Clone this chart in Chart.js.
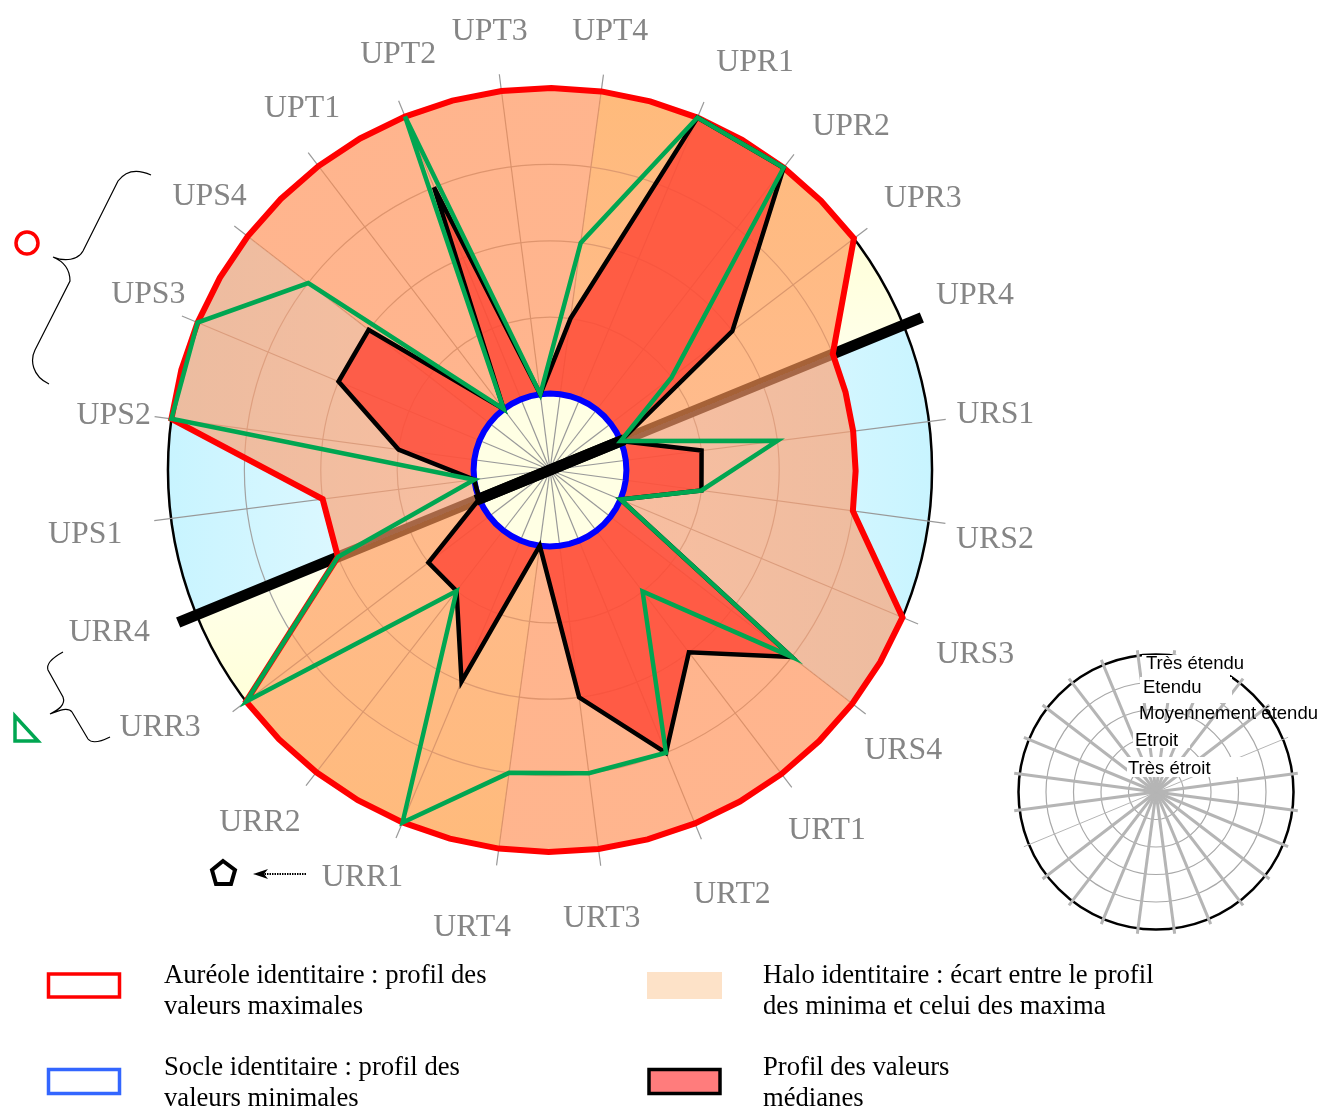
<!DOCTYPE html>
<html lang="fr">
<head>
<meta charset="utf-8">
<title>Profil identitaire</title>
<script src="https://cdn.jsdelivr.net/npm/chart.js@4"></script>
<style>
  body { margin: 0; background: #fff; width: 1322px; height: 1108px; overflow: hidden; position: relative; }
  canvas { position: absolute; }
  svg { position: absolute; left: 0; top: 0; }
  .legend-text { position: absolute; font: 26.65px/31px "Liberation Serif", serif; color: #000; white-space: nowrap; }
</style>
</head>
<body>
<canvas id="main" width="1322" height="1108" style="left:0;top:0"></canvas>
<canvas id="scaleKey" width="322" height="300" style="left:1000px;top:640px"></canvas>

<svg width="1322" height="1108" fill="none">
  <!-- braces and key symbols -->
  <circle cx="27" cy="243" r="11" stroke="#ff0000" stroke-width="3.5"/>
  <path d="M151 175 C140 170 127 169 118 181 L83 251 C78 260 65 262 53 257 C65 262 70 270 70 281 L35 350 C30 360 32 376 49 384" stroke="#000" stroke-width="1.2"/>
  <path d="M15 716 L15 741 L38 741 Z" stroke="#00a651" stroke-width="3.5"/>
  <path d="M63 652 C52 658 46 664 48 670 L63 697 C66 705 58 710 50 714 C60 710 68 707 72 712 L88 739 C92 744 102 741 110 737" stroke="#000" stroke-width="1.2"/>
  <path d="M223 861 L235 870 L231 884 L216 884 L212 870 Z" stroke="#000" stroke-width="4"/>
  <line x1="306" y1="874" x2="262" y2="874" stroke="#000" stroke-width="2" stroke-dasharray="1.5 1"/>
  <path d="M253 874 L268 869 L264 874 L268 879 Z" fill="#000"/>
  <!-- legend swatches -->
  <rect x="48.5" y="974" width="71" height="23" stroke="#ff0000" stroke-width="3.5"/>
  <rect x="48.5" y="1069.5" width="71" height="24" stroke="#3366ff" stroke-width="3.5"/>
  <rect x="647" y="972" width="75" height="27" fill="#fde2c8"/>
  <rect x="649" y="1069.5" width="71" height="24" fill="#ff7c7c" stroke="#000" stroke-width="3.5"/>
</svg>

<div class="legend-text" style="left:164px;top:959px">Auréole identitaire : profil des<br>valeurs maximales</div>
<div class="legend-text" style="left:763px;top:959px">Halo identitaire : écart entre le profil<br>des minima et celui des maxima</div>
<div class="legend-text" style="left:164px;top:1051px">Socle identitaire : profil des<br>valeurs minimales</div>
<div class="legend-text" style="left:763px;top:1051px">Profil des valeurs<br>médianes</div>

<script>
// Categories, clockwise from the first spoke right of the top
const categories = ["UPT4", "UPR1", "UPR2", "UPR3", "UPR4", "URS1", "URS2", "URS3", "URS4", "URT1", "URT2", "URT3",
                    "URT4", "URR1", "URR2", "URR3", "URR4", "UPS1", "UPS2", "UPS3", "UPS4", "UPT1", "UPT2", "UPT3"];

// Values (1 = très étroit ... 5 = très étendu)
const maxProfile    = [5, 5, 5, 5, 4, 4, 4, 5, 5, 5, 5, 5, 5, 5, 5, 5, 3, 3, 5, 5, 5, 5, 5, 5];
// the red outline also has a vertex half way between two spokes where it follows a ring
const maxBetween    = [5, 5, 5, null, 4, 4, null, 5, 5, 5, 5, 5, 5, 5, 5, null, null, null, 5, 5, 5, 5, 5, 5];
const minProfile    = [1, 1, 1, 1, 1, 1, 1, 1, 1, 1, 1, 1, 1, 1, 1, 1, 1, 1, 1, 1, 1, 1, 1, 1];
const medianProfile = [2, 5, 5, 3, 1, 2, 2, 1, 4, 3, 4, 3, 1, 3, 2, 2, 1, 1, 2, 3, 3, 1, 4, 1];
const greenProfile  = [3, 5, 5, 2, 1, 3, 2, 1, 4, 2, 4, 4, 4, 5, 2, 5, 3, 1, 5, 5, 4, 1, 5, 1];

const axisEnds = ["UPR4", "URR4"];
const scaleLevels = ["Très étroit", "Etroit", "Moyennement étendu", "Etendu", "Très étendu"];

// Label placement around the wheels
const labelDistance = [444, 458, 458, 462, 460, 449, 450, 463, 450, 453, 460, 450, 462, 447, 455, 466, 469, 469, 440, 439, 438, 440, 444, 444];
const labelTurn = [0.1, 3.9, 3.4, 1.1, -0.2, 0, 0.9, 0.6, 0.6, -0.4, -1, 0.7, 2, 2.1, 1.9, 4.1, 2.3, -0.4, -0.3, 1.1, 1.3, 3, 2.3, -0.5];
const levelLefts = [128, 135, 139, 143, 146];
const levelDrops = [4, 4, 4, 6, 9];

const SPOKE_TURN = 7.7;
const RED = "#ff0000", GREEN = "#00a651", BLUE = "#0000ff";

// Every spoke gets an unlabeled slot after it so the red line can have its mid vertices
const slotLabels = categories.flatMap(c => [c, ""]);
const onSpokes = (values, between) => values.flatMap((v, i) => [v, between ? between[i] : null]);
const axisLine = value => slotLabels.map(l => axisEnds.includes(l) ? value : null);

// Halo tint of the six sectors, clockwise from UPT4: UPR/URS/URT/URR/UPS/UPT families
const haloColors = ["rgba(255,150,85,0.65)", "rgba(255,158,109,0.65)", "rgba(255,141,81,0.65)",
                    "rgba(255,150,85,0.65)", "rgba(255,158,109,0.65)", "rgba(255,141,81,0.65)"];

const haloFill = (ctx, scale) => {
  // options get resolved once before the layout has run
  if (!Number.isFinite(scale.xCenter)) return "transparent";
  const g = ctx.createConicGradient((SPOKE_TURN - 90) * Math.PI / 180, scale.xCenter, scale.yCenter);
  haloColors.forEach((c, i) => {
    g.addColorStop(i / haloColors.length, c);
    g.addColorStop((i + 1) / haloColors.length, c);
  });
  return g;
};

// Yellow fades towards the horizontal middle line, blue towards the vertical one
const baseSectors = [
  { from: "UPT4", to: "UPR4", outer: "#ffffc3", inner: "#fffffa", dir: [0, 1] },
  { from: "UPR4", to: "URS4", outer: "#c8f4ff", inner: "#f4fcff", dir: [1, 0] },
  { from: "URT4", to: "URR4", outer: "#ffffc3", inner: "#fffffa", dir: [0, 1] },
  { from: "URR4", to: "UPS4", outer: "#c8f4ff", inner: "#f4fcff", dir: [1, 0] },
];

const wheelBase = {
  id: "wheelBase",
  beforeDraw(chart) {
    const { ctx, scales: { r } } = chart;
    const R = r.getDistanceFromCenterForValue(5);
    const cx = r.xCenter, cy = r.yCenter;
    ctx.save();
    baseSectors.forEach(s => {
      const a0 = r.getIndexAngle(slotLabels.indexOf(s.from)) - Math.PI / 2;
      const a1 = r.getIndexAngle(slotLabels.indexOf(s.to)) - Math.PI / 2;
      const [dx, dy] = s.dir;
      const g = ctx.createLinearGradient(cx - dx * R, cy - dy * R, cx + dx * R, cy + dy * R);
      g.addColorStop(0, s.outer);
      g.addColorStop(0.5, s.inner);
      g.addColorStop(1, s.outer);
      ctx.fillStyle = g;
      ctx.beginPath();
      ctx.moveTo(cx, cy);
      ctx.arc(cx, cy, R, a0, a1);
      ctx.closePath();
      ctx.fill();
    });
    ctx.fillStyle = "#ffffe4";
    ctx.beginPath();
    ctx.arc(cx, cy, r.getDistanceFromCenterForValue(1), 0, Math.PI * 2);
    ctx.fill();
    ctx.restore();
  },
};

const wheelLabels = {
  id: "wheelLabels",
  afterDraw(chart) {
    const { ctx, scales: { r } } = chart;
    ctx.save();
    ctx.font = '31.8px "Liberation Serif"';
    ctx.fillStyle = "#858585";
    ctx.textAlign = "center";
    ctx.textBaseline = "middle";
    categories.forEach((c, i) => {
      const p = r.getPointPosition(i * 2, labelDistance[i], labelTurn[i] * Math.PI / 180);
      ctx.fillText(c, p.x, p.y + 2);
    });
    ctx.restore();
  },
};

const polarOptions = (padding, outerMax, turn, spokeStyle, ringStyle) => ({
  responsive: false,
  animation: false,
  layout: { padding },
  plugins: { legend: { display: false }, tooltip: { enabled: false }, title: { display: false } },
  elements: { point: { radius: 0 }, line: { tension: 0 } },
  scales: {
    r: {
      min: 0,
      max: outerMax,
      startAngle: turn,
      ticks: { display: false, stepSize: 1, includeBounds: false },
      pointLabels: { display: false },
      angleLines: spokeStyle,
      grid: ringStyle,
    },
  },
});

const lineDataset = (data, color, width, extra) => ({
  data, borderColor: color, borderWidth: width, fill: false, spanGaps: true, clip: false, ...extra,
});

// First dataset is drawn last. Index 3 is the blue base profile, the fills stop on it.
new Chart(document.getElementById("main"), {
  type: "radar",
  data: {
    labels: slotLabels,
    datasets: [
      lineDataset(onSpokes(greenProfile), GREEN, 4.5),
      lineDataset(onSpokes(medianProfile), "#000000", 4.5),
      lineDataset(axisLine(1.05), "#000000", 11),
      lineDataset(onSpokes(minProfile, minProfile), BLUE, 6),
      lineDataset(onSpokes(medianProfile), "transparent", 0, { fill: { target: 3 }, backgroundColor: "rgba(255,69,51,0.8)" }),
      lineDataset(onSpokes(maxProfile, maxBetween), RED, 6, {
        fill: { target: 3 },
        backgroundColor: c => haloFill(c.chart.ctx, c.chart.scales.r),
      }),
      lineDataset(axisLine(5.26), "#000000", 11),
    ],
  },
  options: polarOptions(
    { left: 151, top: 71, right: 373, bottom: 239 },
    5.222,
    SPOKE_TURN,
    { color: "#999999", lineWidth: c => (c.index % 2 ? 0 : 1.2) },
    {
      circular: true,
      color: c => (c.tick.value === 5 ? "#000000" : "#a3a3a3"),
      lineWidth: c => (c.tick.value === 5 ? 2.5 : 1.2),
    }
  ),
  plugins: [wheelBase, wheelLabels],
});

// Small key wheel, bottom right
const keyLabels = {
  id: "keyLabels",
  afterDraw(chart) {
    const { ctx, scales: { r } } = chart;
    ctx.save();
    // white patches behind the labels, Moyennement étendu has none
    ctx.fillStyle = "#ffffff";
    [[142, 15, 88, 22], [140, 37, 92, 26], [133, 80, 57, 28], [127, 117, 116, 20]].forEach(b => ctx.fillRect(...b));
    ctx.font = '18.5px "Liberation Sans"';
    ctx.fillStyle = "#000000";
    ctx.textBaseline = "middle";
    scaleLevels.forEach((level, i) => {
      const y = r.yCenter - r.getDistanceFromCenterForValue(i + 1) + levelDrops[i];
      ctx.fillText(level, levelLefts[i], y);
    });
    ctx.restore();
  },
};

new Chart(document.getElementById("scaleKey"), {
  type: "radar",
  data: { labels: categories, datasets: [{ data: [], borderWidth: 0 }] },
  options: polarOptions(
    { left: 13, top: 9, right: 23, bottom: 5 },
    5.2,
    7.5,
    {
      color: "#b5b5b5",
      lineWidth: c => (axisEnds.includes(categories[c.index]) ? 1 : 3),
    },
    {
      circular: true,
      color: c => (c.tick.value === 5 ? "#000000" : "#a8a8a8"),
      lineWidth: c => (c.tick.value === 5 ? 2.5 : 1.2),
    }
  ),
  plugins: [keyLabels],
});
</script>
</body>
</html>
